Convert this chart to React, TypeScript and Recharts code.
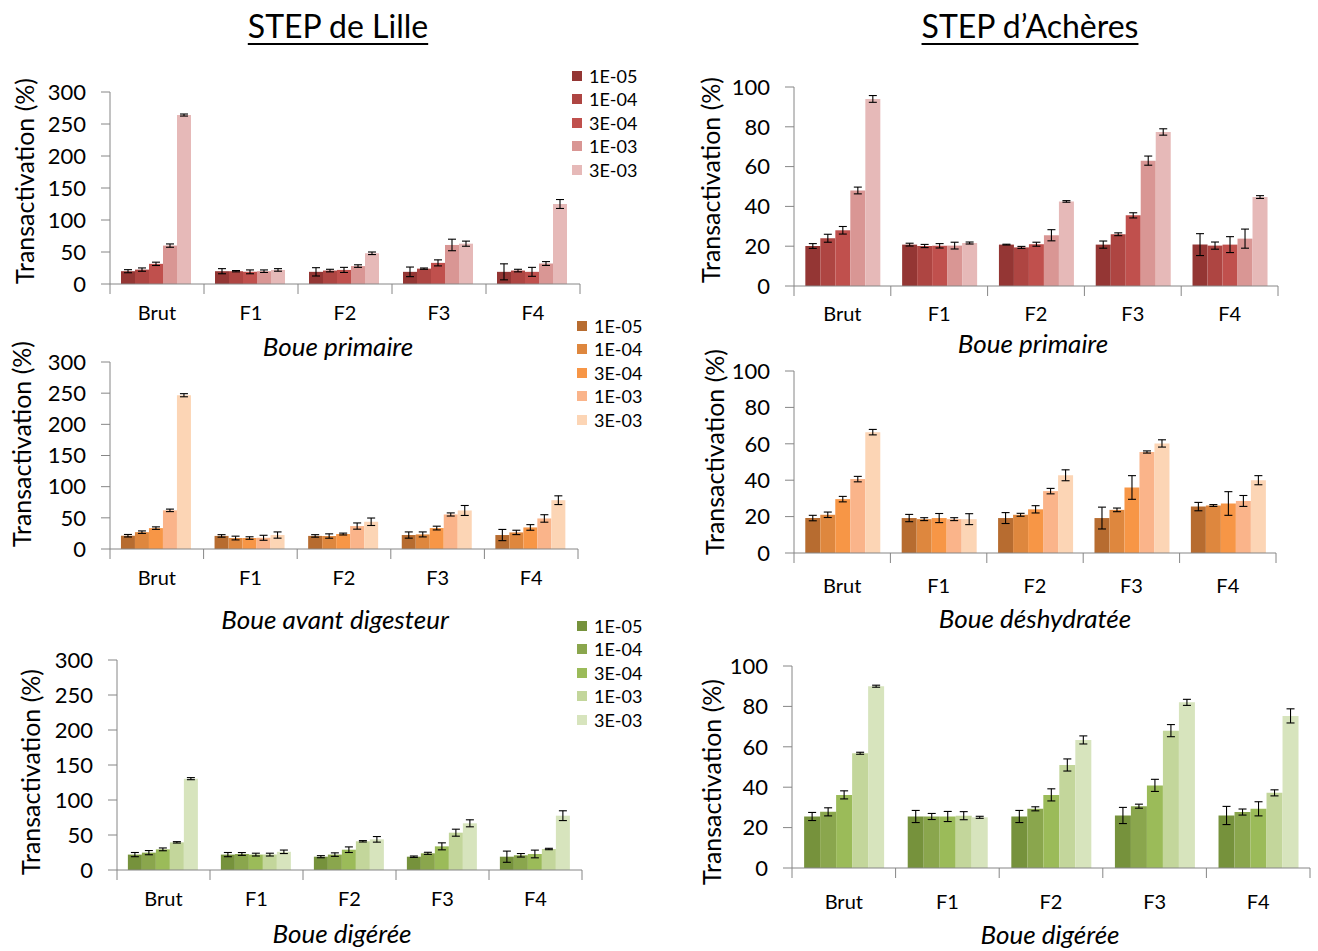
import React from "react";
import { BarChart, Bar, XAxis, YAxis, ErrorBar, Legend } from "recharts";

const FONT = "Lato, 'Open Sans', sans-serif";
const AXIS = "#868686";

const categories = ["Brut", "F1", "F2", "F3", "F4"];
const doses = ["1E-05", "1E-04", "3E-04", "1E-03", "3E-03"];
const lilleTicks = [0, 50, 100, 150, 200, 250, 300];
const acheresTicks = [0, 20, 40, 60, 80, 100];

const reds = ["#943634", "#ae4542", "#c0504d", "#d99694", "#e6b9b8"];
const oranges = ["#b76c30", "#de873e", "#f79646", "#fab48a", "#fcd5b5"];
const greens = ["#76923c", "#8aa64d", "#9bbb59", "#c3d69b", "#d7e4bd"];

// rows = Brut, F1..F4 ; columns = 1E-05, 1E-04, 3E-04, 1E-03, 3E-03
const lillePrimaire = [
  [20, 22.5, 31.5, 60, 264],
  [20, 20, 19, 20, 22],
  [19, 21, 22, 28, 48],
  [19, 24, 33, 61, 63],
  [19, 21, 19, 32, 125],
];
const lillePrimaireErr = [
  [2.4, 2.6, 2.6, 2.6, 1.6],
  [4, 1, 3, 2, 2],
  [6.5, 2, 4, 2, 2],
  [7.5, 1, 4.7, 9, 4],
  [12.5, 2, 7, 3, 7],
];

const acheresPrimaire = [
  [20.1, 24, 28, 48, 94],
  [20.8, 20.1, 20.2, 20.3, 21.6],
  [20.8, 19.4, 21, 25.5, 42.5],
  [20.8, 26, 35.5, 63, 77.4],
  [20.8, 20.3, 20.8, 23.8, 44.7],
];
const acheresPrimaireErr = [
  [1.2, 2, 1.9, 1.7, 1.7],
  [0.7, 0.8, 1.1, 1.7, 0.5],
  [0.2, 0.5, 1, 2.8, 0.4],
  [1.8, 0.7, 1.3, 2.3, 1.6],
  [5.5, 1.8, 4, 4.8, 0.7],
];

const lilleAvant = [
  [21.3, 27, 33.5, 62, 246.7],
  [21, 17.6, 17.6, 18, 22.4],
  [21, 20.8, 24, 36.8, 43.7],
  [22.4, 23.4, 33.6, 55.4, 61.8],
  [22.4, 26.6, 34.6, 49, 78.3],
];
const lilleAvantErr = [
  [2, 2, 2, 2, 2.5],
  [2, 3, 2, 4, 5],
  [2, 3.5, 1.5, 5, 6],
  [5, 4, 3, 2.5, 8],
  [9, 3.5, 4.5, 6, 7],
];

const acheresDeshydratee = [
  [19.2, 21, 29.6, 40.6, 66.4],
  [19.2, 18.6, 19.2, 18.6, 18.6],
  [19.2, 21, 24, 34, 42.7],
  [19.2, 23.7, 36, 55.5, 60.2],
  [25.5, 26.1, 27.2, 28.6, 40],
];
const acheresDeshydrateeErr = [
  [1.5, 1.5, 1.5, 1.5, 1.5],
  [2, 0.8, 2.5, 0.8, 3],
  [3, 0.8, 2, 1.5, 3],
  [6, 1, 6.5, 0.6, 2],
  [2.3, 0.5, 6.5, 3, 2.5],
];

const lilleDigeree = [
  [22, 24.8, 29.5, 39.5, 130.5],
  [22, 22.9, 22, 22, 26],
  [19, 22, 29, 41, 43.8],
  [19, 23.8, 33.8, 53.3, 66.7],
  [19, 21, 22.9, 30, 77.6],
];
const lilleDigereeErr = [
  [3, 3, 2, 1, 1.5],
  [3, 2, 2, 2, 2.5],
  [1.5, 2.5, 4, 1, 4],
  [1, 1.5, 5, 5, 5],
  [8, 2.5, 5.5, 1, 7],
];

const acheresDigeree = [
  [25.5, 27.8, 36.2, 56.8, 90],
  [25.5, 25.5, 25.5, 25.9, 25.1],
  [25.5, 29.3, 36.2, 51, 63.4],
  [26, 30.6, 40.9, 68, 82],
  [26, 27.7, 29.3, 37.2, 75.3],
];
const acheresDigereeErr = [
  [2, 2, 2, 0.5, 0.5],
  [3, 1.5, 2.5, 2, 0.5],
  [3, 1, 3, 3, 2],
  [4, 1, 3, 3, 1.5],
  [4.5, 1.5, 3.5, 1.5, 3.5],
];

function buildRows(mean: number[][], err: number[][]) {
  return categories.map((c, i) => {
    const row: Record<string, any> = { cat: c };
    doses.forEach((_, j) => {
      row["v" + j] = mean[i][j];
      row["e" + j] = err[i][j];
    });
    return row;
  });
}

type Spec = {
  mean: number[][];
  err: number[][];
  colors: string[];
  ticks: number[];
  axisX: number;
  xEnd: number;
  topY: number;
  zeroY: number;
  yLabel: [number, number];
  xTitle: string;
  xTitlePos: [number, number];
  catDy: number;
  legendPos?: [number, number];
};

const YW = 110;
const MT = 40;
const MR = 10;

function CatTick(props: any) {
  const { x, y, payload, index, band, dy } = props;
  return (
    <g>
      <line x1={x - band / 2} x2={x - band / 2} y1={y} y2={y + 10} stroke={AXIS} />
      {index === categories.length - 1 && (
        <line x1={x + band / 2} x2={x + band / 2} y1={y} y2={y + 10} stroke={AXIS} />
      )}
      <text x={x} y={y + dy} textAnchor="middle" dominantBaseline="central" fontFamily={FONT} fontSize={20} fill="#000">
        {payload.value}
      </text>
    </g>
  );
}

function LegendBox(props: any) {
  const items = [...(props.payload || [])].sort(
    (a: any, b: any) => doses.indexOf(a.value) - doses.indexOf(b.value)
  );
  return (
    <div style={{ fontFamily: FONT, fontSize: 18, color: "#000" }}>
      {items.map((p: any) => (
        <div key={p.value} style={{ display: "flex", alignItems: "center", height: 23.5 }}>
          <span style={{ width: 10, height: 10, background: p.color, marginRight: 7, display: "inline-block" }} />
          <span>{p.value}</span>
        </div>
      ))}
    </div>
  );
}

function Panel({ s }: { s: Spec }) {
  const left = s.axisX - YW;
  const top = s.topY - MT;
  const plotW = s.xEnd - s.axisX;
  const plotH = s.zeroY - s.topY;
  const xAxisH = s.xTitlePos[1] - s.zeroY + 25;
  const width = YW + plotW + MR;
  const height = MT + plotH + xAxisH;
  const band = plotW / categories.length;
  const rows = buildRows(s.mean, s.err);
  const max = s.ticks[s.ticks.length - 1];

  return (
    <div style={{ position: "absolute", left, top }}>
      <BarChart
        width={width}
        height={height}
        data={rows}
        margin={{ top: MT, right: MR, bottom: 0, left: 0 }}
        barGap={0}
        barCategoryGap="11.7%"
      >
        <XAxis
          dataKey="cat"
          interval={0}
          tickSize={0}
          tickMargin={0}
          height={xAxisH}
          axisLine={{ stroke: AXIS }}
          tickLine={false}
          tick={(p: any) => <CatTick {...p} band={band} dy={s.catDy} />}
          label={() => (
            <text
              x={s.xTitlePos[0] - left}
              y={s.xTitlePos[1] - top}
              textAnchor="middle"
              dominantBaseline="central"
              fontFamily={FONT}
              fontStyle="italic"
              fontSize={26}
              fill="#000"
            >
              {s.xTitle}
            </text>
          )}
        />
        <YAxis
          domain={[0, max]}
          ticks={s.ticks}
          interval={0}
          width={YW}
          tickSize={9}
          tickMargin={15}
          axisLine={{ stroke: AXIS }}
          tickLine={{ stroke: AXIS }}
          tick={{ fill: "#000", fontSize: 22, fontFamily: FONT }}
          label={() => {
            const lx = s.yLabel[0] - left;
            const ly = s.yLabel[1] - top;
            return (
              <text
                x={lx}
                y={ly}
                transform={`rotate(-90 ${lx} ${ly})`}
                textAnchor="middle"
                dominantBaseline="central"
                fontFamily={FONT}
                fontSize={25}
                fill="#000"
              >
                Transactivation (%)
              </text>
            );
          }}
        />
        {doses.map((d, j) => (
          <Bar key={d} dataKey={"v" + j} name={d} fill={s.colors[j]} isAnimationActive={false}>
            <ErrorBar dataKey={"e" + j} width={4} stroke="#000" strokeWidth={1.1} direction="y" isAnimationActive={false} />
          </Bar>
        ))}
        {s.legendPos && (
          <Legend
            layout="vertical"
            align="center"
            verticalAlign="middle"
            wrapperStyle={{ left: s.legendPos[0] - left, top: s.legendPos[1] - top, width: 80 }}
            content={(p: any) => <LegendBox {...p} />}
          />
        )}
      </BarChart>
    </div>
  );
}

const panels: Spec[] = [
  {
    mean: lillePrimaire, err: lillePrimaireErr, colors: reds, ticks: lilleTicks,
    axisX: 110, xEnd: 580, topY: 92, zeroY: 284, yLabel: [24, 181],
    xTitle: "Boue primaire", xTitlePos: [338, 346], catDy: 28, legendPos: [572, 64],
  },
  {
    mean: acheresPrimaire, err: acheresPrimaireErr, colors: reds, ticks: acheresTicks,
    axisX: 794, xEnd: 1278, topY: 87, zeroY: 286, yLabel: [710, 180],
    xTitle: "Boue primaire", xTitlePos: [1033, 343], catDy: 27,
  },
  {
    mean: lilleAvant, err: lilleAvantErr, colors: oranges, ticks: lilleTicks,
    axisX: 110, xEnd: 578, topY: 362, zeroY: 549, yLabel: [21, 444],
    xTitle: "Boue avant digesteur", xTitlePos: [335, 619], catDy: 28, legendPos: [577, 314],
  },
  {
    mean: acheresDeshydratee, err: acheresDeshydrateeErr, colors: oranges, ticks: acheresTicks,
    axisX: 794, xEnd: 1276, topY: 371, zeroY: 553, yLabel: [714, 452],
    xTitle: "Boue déshydratée", xTitlePos: [1035, 618], catDy: 32,
  },
  {
    mean: lilleDigeree, err: lilleDigereeErr, colors: greens, ticks: lilleTicks,
    axisX: 117, xEnd: 582, topY: 660, zeroY: 870, yLabel: [30, 772],
    xTitle: "Boue digérée", xTitlePos: [342, 933], catDy: 28, legendPos: [577, 614],
  },
  {
    mean: acheresDigeree, err: acheresDigereeErr, colors: greens, ticks: acheresTicks,
    axisX: 792, xEnd: 1310, topY: 666, zeroY: 868, yLabel: [711, 782],
    xTitle: "Boue digérée", xTitlePos: [1050, 934], catDy: 33,
  },
];

const titleStyle: React.CSSProperties = {
  position: "absolute",
  top: 8,
  width: 300,
  textAlign: "center",
  fontFamily: FONT,
  fontSize: 32,
  color: "#000",
  textDecoration: "underline",
  textDecorationThickness: 2,
  textUnderlineOffset: 5,
  lineHeight: "36px",
};

export default function App() {
  return (
    <div style={{ position: "absolute", left: 0, top: 0, width: 1318, height: 951, background: "#fff", overflow: "hidden" }}>
      <div style={{ ...titleStyle, left: 338 - 150 }}>STEP de Lille</div>
      <div style={{ ...titleStyle, left: 1030 - 150 }}>STEP d’Achères</div>
      {panels.map((s, i) => (
        <Panel key={i} s={s} />
      ))}
    </div>
  );
}
